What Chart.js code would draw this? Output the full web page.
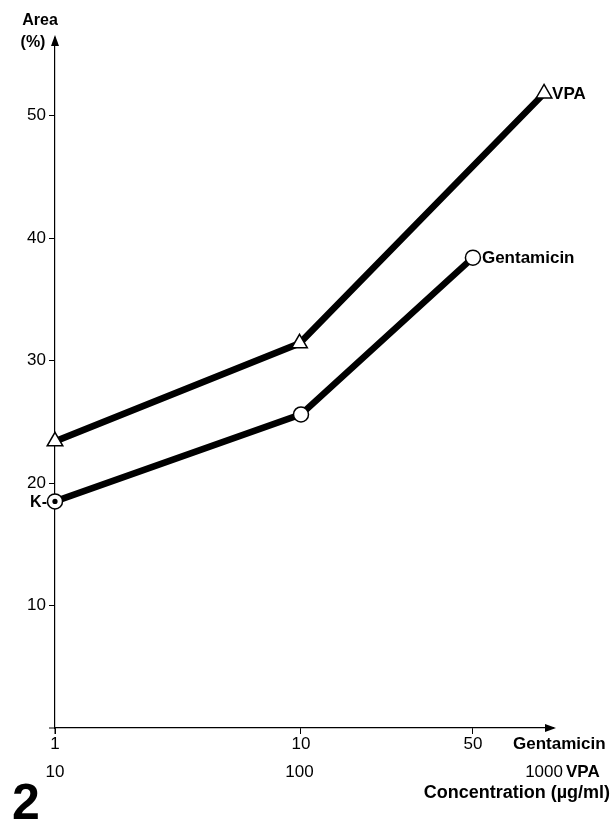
<!DOCTYPE html>
<html><head><meta charset="utf-8">
<script src="https://cdn.jsdelivr.net/npm/chart.js@4"></script>
<style>html,body{margin:0;padding:0;background:#fff}canvas{display:block}</style>
</head><body>
<canvas id="c" width="613" height="824"></canvas>
<script>
// ---- data ----
const gentConc = [1, 10, 50];
const gentArea = [18.5, 25.6, 38.4];
const vpaConc = [10, 100, 1000];
const vpaArea = [23.4, 31.4, 51.8];
const controlConc = [1];
const controlArea = [18.5];
const yTicks = [10, 20, 30, 40, 50];
const gentTicks = [1, 10, 50];
const vpaTicks = [10, 100, 1000];

const FONT = '"Liberation Sans", Arial, Helvetica, sans-serif';
Chart.defaults.color = '#000';
Chart.defaults.font.family = FONT;

const pts = (xs, ys) => xs.map((x, i) => ({x, y: ys[i]}));

const extras = {
  id: 'extras',
  afterDraw(chart) {
    const ctx = chart.ctx, a = chart.chartArea;
    ctx.save();
    ctx.fillStyle = '#000'; ctx.strokeStyle = '#000';
    // axis extensions
    ctx.lineWidth = 1;
    ctx.beginPath(); ctx.moveTo(a.left, a.bottom); ctx.lineTo(a.left, a.bottom + 6); ctx.stroke();
    ctx.beginPath(); ctx.moveTo(a.left - 6, a.bottom); ctx.lineTo(a.left, a.bottom); ctx.stroke();
    // arrows
    ctx.beginPath(); ctx.moveTo(a.left, a.top - 3); ctx.lineTo(a.left - 4, a.top + 8); ctx.lineTo(a.left + 4, a.top + 8); ctx.closePath(); ctx.fill();
    ctx.beginPath(); ctx.moveTo(a.right + 3, a.bottom); ctx.lineTo(a.right - 8, a.bottom - 4); ctx.lineTo(a.right - 8, a.bottom + 4); ctx.closePath(); ctx.fill();
    // y title
    ctx.textBaseline = 'middle';
    ctx.font = 'bold 16px ' + FONT;
    ctx.textAlign = 'center';
    ctx.fillText('Area', 40, 21);
    ctx.fillText('(%)', 33, 43);
    // control label
    const k = chart.getDatasetMeta(0).data[0];
    ctx.textAlign = 'right';
    ctx.fillText('K-', k.x - 8, k.y + 1);
    // axis names
    ctx.font = 'bold 17px ' + FONT;
    ctx.textAlign = 'left';
    ctx.fillText('Gentamicin', 513, 744);
    ctx.fillText('VPA', 566, 772);
    ctx.font = 'bold 18px ' + FONT;
    ctx.textAlign = 'right';
    ctx.fillText('Concentration (\u00b5g/ml)', 610, 793);
    // series end labels
    ctx.font = 'bold 17px ' + FONT;
    ctx.textAlign = 'left';
    const v = chart.getDatasetMeta(2).data; const vl = v[v.length - 1];
    ctx.fillText('VPA', vl.x + 8, vl.y + 1);
    const g = chart.getDatasetMeta(1).data; const gl = g[g.length - 1];
    ctx.fillText('Gentamicin', gl.x + 9, gl.y + 1);
    // figure number
    ctx.font = 'bold 50px ' + FONT;
    ctx.textBaseline = 'alphabetic';
    ctx.fillText('2', 12, 819);
    ctx.restore();
  }
};

new Chart(document.getElementById('c'), {
  type: 'scatter',
  data: {
    datasets: [
      { label: 'K', data: pts(controlConc, controlArea), xAxisID: 'xg', yAxisID: 'y', clip: false,
        showLine: false, pointStyle: 'circle', pointRadius: 2.6, pointBackgroundColor: '#000', pointBorderWidth: 0 },
      { label: 'Gentamicin', data: pts(gentConc, gentArea), xAxisID: 'xg', yAxisID: 'y', clip: false,
        showLine: true, tension: 0, borderColor: '#000', borderWidth: 6.5,
        pointStyle: 'circle', pointRadius: 7.5, pointBackgroundColor: '#fff', pointBorderColor: '#000', pointBorderWidth: 1.5 },
      { label: 'VPA', data: pts(vpaConc, vpaArea), xAxisID: 'xv', yAxisID: 'y', clip: false,
        showLine: true, tension: 0, borderColor: '#000', borderWidth: 6.5,
        pointStyle: 'triangle', pointRadius: 9, pointBackgroundColor: '#fff', pointBorderColor: '#000', pointBorderWidth: 1.5 }
    ]
  },
  options: {
    responsive: false, animation: false, devicePixelRatio: 1,
    layout: { padding: { left: 0, right: 60, top: 38, bottom: 40 } },
    plugins: { legend: { display: false }, tooltip: { enabled: false } },
    scales: {
      y: {
        type: 'linear', position: 'left', min: 0, max: 56.33, bounds: 'data',
        afterBuildTicks: s => { s.ticks = yTicks.map(v => ({value: v})); },
        afterFit: s => { s.width = 55; },
        ticks: { font: { size: 17 }, padding: 3, color: '#000' },
        grid: { drawOnChartArea: false, tickLength: 6, color: '#000', lineWidth: 1 },
        border: { display: true, color: '#000', width: 1.2 }
      },
      xg: {
        type: 'logarithmic', position: 'bottom', weight: 0, min: 1, max: 105.8, bounds: 'data',
        afterBuildTicks: s => { s.ticks = gentTicks.map(v => ({value: v})); },
        afterFit: s => { s.height = 30; },
        ticks: { font: { size: 17 }, padding: 0, autoSkip: false, maxRotation: 0, callback: v => String(v) },
        grid: { drawOnChartArea: false, tickLength: 6, color: '#000', lineWidth: 1 },
        border: { display: true, color: '#000', width: 1.2 }
      },
      xv: {
        type: 'logarithmic', position: 'bottom', weight: 1, min: 10, max: 1088, bounds: 'data',
        afterBuildTicks: s => { s.ticks = vpaTicks.map(v => ({value: v})); },
        afterFit: s => { s.height = 26; },
        ticks: { font: { size: 17 }, padding: 4, autoSkip: false, maxRotation: 0, callback: v => String(v) },
        grid: { display: false, drawTicks: false, drawOnChartArea: false },
        border: { display: false }
      }
    }
  },
  plugins: [extras]
});
</script>
</body></html>
